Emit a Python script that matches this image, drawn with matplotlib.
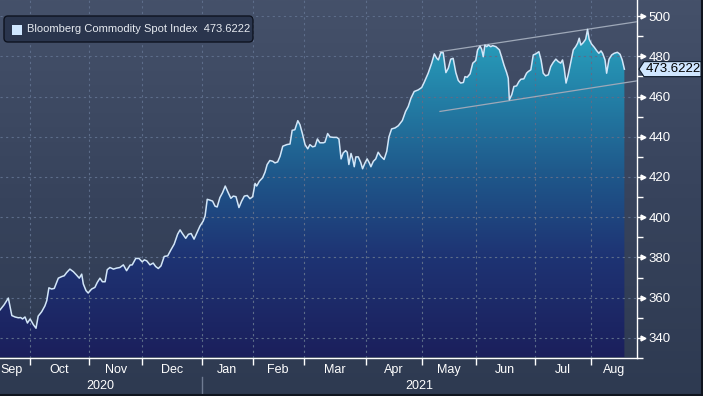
import numpy as np
import matplotlib
matplotlib.use('Agg')
import matplotlib.pyplot as plt
from matplotlib.colors import LinearSegmentedColormap
from matplotlib.patches import Polygon, FancyBboxPatch, Rectangle
from matplotlib.transforms import IdentityTransform, blended_transform_factory
from matplotlib.lines import Line2D

plt.rcParams['font.family'] = ['Liberation Sans', 'DejaVu Sans']

# ---------------- data ----------------
series_name = "Bloomberg Commodity Spot Index"
last_label = "473.6222"

# trading-day position (0 = mid-Sep 2020) and index level
t = [0.0, 1.5, 3.1, 4.4, 5.6, 6.8, 7.7, 8.4, 9.3, 10.2, 11.2, 12.4, 13.4, 14.2, 15.5,
     16.7, 17.4, 18.2, 19.2, 20.2, 21.7, 23.0, 23.9, 24.8, 26.0, 27.3, 28.5, 29.5, 30.4,
     31.0, 32.0, 32.8, 34.1, 35.3, 36.2, 37.2, 38.1, 39.1, 39.9, 40.9, 42.2, 43.4, 44.6,
     45.9, 47.1, 48.4, 49.2, 50.5, 51.7, 52.9, 53.7, 54.6, 55.8, 57.0, 57.9, 58.9, 59.9,
     61.1, 62.4, 63.6, 64.8, 66.1, 67.0, 67.8, 69.1, 70.1, 71.1, 72.2, 73.2, 74.4, 75.6,
     76.3, 77.1, 78.1, 79.1, 80.0, 80.8, 81.8, 82.8, 83.8, 84.9, 85.9, 86.8, 87.8, 88.9,
     89.9, 90.9, 92.0, 93.0, 94.0, 94.9, 95.5, 96.5, 97.7, 98.6, 99.4, 100.4, 101.5,
     102.3, 103.3, 104.2, 105.2, 106.7, 107.9, 108.7, 109.7, 110.8, 111.6, 112.5, 113.5,
     114.5, 115.3, 116.3, 117.2, 118.1, 119.0, 120.3, 120.9, 121.9, 122.8, 124.0, 125.3,
     126.1, 126.9, 127.7, 128.6, 129.2, 129.8, 130.6, 131.2, 131.8, 132.4, 133.3, 134.2,
     134.9, 135.8, 136.6, 137.4, 138.0, 138.9, 139.8, 140.7, 141.7, 142.9, 143.9, 144.7,
     145.7, 147.0, 148.2, 149.7, 150.9, 151.9, 152.9, 154.1, 155.6, 156.9, 157.9, 159.3,
     160.6, 161.6, 162.5, 163.1, 164.0, 164.9, 165.9, 166.8, 167.7, 168.6, 169.6, 170.5,
     171.4, 172.4, 173.0, 173.8, 174.9, 175.9, 177.0, 177.7, 178.6, 179.2, 179.8, 180.4,
     181.1, 181.7, 182.6, 183.3, 184.5, 185.8, 186.6, 187.5, 188.5, 189.1, 189.5, 190.4,
     191.2, 192.2, 193.1, 193.8, 194.9, 195.9, 196.5, 197.5, 198.4, 199.3, 200.5, 201.3,
     202.1, 203.0, 204.0, 204.9, 205.8, 206.8, 207.7, 208.6, 209.3, 209.9, 210.6, 211.4,
     212.4, 213.3, 214.2, 214.9, 215.5, 216.1, 217.0, 217.9, 218.6, 219.2, 220.1, 221.1,
     222.0, 222.8, 223.6, 224.2, 225.1, 225.7, 226.6, 227.6, 228.5, 229.7, 230.7, 231.5,
     232.3]
values = [353.9, 356.4, 359.8, 351.1, 350.4, 350.0, 350.1, 349.4, 350.4, 347.4, 349.4,
          346.6, 344.8, 350.8, 353.0, 355.9, 358.5, 364.9, 364.3, 364.6, 369.7, 370.5,
          370.9, 372.5, 374.2, 372.9, 371.2, 369.7, 371.7, 366.8, 363.5, 362.3, 364.3,
          365.1, 367.6, 369.7, 367.9, 367.9, 373.9, 375.0, 374.2, 374.7, 375.0, 376.3,
          373.4, 376.2, 376.3, 379.5, 379.5, 377.8, 378.8, 378.3, 376.3, 377.2, 375.5,
          374.5, 375.8, 380.5, 380.8, 383.8, 386.6, 391.6, 393.7, 392.0, 389.5, 391.5,
          391.9, 389.1, 392.0, 395.6, 398.1, 400.6, 408.9, 408.5, 408.0, 405.5, 405.1,
          409.7, 412.2, 415.5, 412.2, 409.4, 410.5, 410.2, 404.8, 408.0, 410.5, 410.8,
          409.2, 410.2, 416.8, 415.5, 417.9, 419.6, 422.4, 426.2, 428.2, 427.8, 427.0,
          427.5, 430.3, 435.3, 436.1, 436.4, 443.2, 443.5, 448.0, 446.0, 441.6, 436.1,
          434.0, 436.1, 435.0, 435.3, 438.9, 437.0, 437.0, 437.3, 441.6, 439.9, 439.7,
          439.7, 438.9, 429.0, 432.0, 433.1, 432.3, 426.2, 431.7, 429.0, 425.1, 430.0,
          430.0, 427.3, 424.1, 427.0, 429.0, 427.0, 425.1, 427.8, 429.0, 432.3, 430.3,
          428.7, 432.8, 439.9, 443.9, 444.4, 445.5, 448.1, 452.6, 455.1, 459.2, 462.5,
          463.3, 464.5, 467.3, 471.6, 476.6, 481.2, 479.0, 478.2, 481.8, 481.8, 471.9,
          474.1, 478.6, 479.0, 471.9, 468.0, 466.7, 467.0, 469.9, 469.6, 471.3, 476.6,
          477.9, 483.2, 485.1, 483.5, 479.8, 485.6, 484.8, 485.6, 484.8, 485.3, 484.8,
          483.2, 479.8, 475.7, 471.9, 469.1, 458.4, 460.9, 465.0, 465.3, 467.5, 468.6,
          468.8, 471.6, 472.4, 473.3, 480.7, 481.2, 482.3, 478.2, 471.6, 470.3, 470.8,
          474.9, 476.9, 478.6, 477.4, 476.6, 478.2, 474.1, 466.7, 470.8, 477.4, 483.2,
          484.8, 486.5, 489.0, 485.6, 486.8, 488.5, 493.4, 488.5, 486.1, 484.5, 482.8,
          481.5, 482.7, 481.5, 478.2, 471.6, 478.6, 480.7, 481.5, 482.0, 481.0, 478.2,
          473.6222]

# month boundaries in trading days (first = left edge, last = right edge of axis)
month_bounds = [0, 11, 33, 53, 75, 94, 113, 136, 157, 177, 199, 220, 237]
month_labels = ['Sep', 'Oct', 'Nov', 'Dec', 'Jan', 'Feb', 'Mar', 'Apr', 'May', 'Jun', 'Jul', 'Aug']
year_labels = ['2020', '2021']
year_bounds = [0, 75, 237]

# channel (trend) lines
trend_t = [163.7, 237.0]
upper_trend = [482.3, 497.2]
lower_trend = [452.6, 467.8]

y_major = list(range(340, 501, 20))
y_minor = list(range(330, 501, 10))
y_lim = (330.5, 508.0)

# ---------------- figure ----------------
W, H = 703, 396
fig = plt.figure(figsize=(W / 100, H / 100), dpi=100)

# background gradient
bg = fig.add_axes([0, 0, 1, 1], zorder=-10)
bg.axis('off')
bg_cmap = LinearSegmentedColormap.from_list('bg', ['#2e3a51', '#37435c', '#45516a'])
grad = np.linspace(0, 1, 256).reshape(-1, 1)
bg.imshow(grad, aspect='auto', cmap=bg_cmap, origin='lower', extent=[0, 1, 0, 1])
bg.set_xlim(0, 1); bg.set_ylim(0, 1)

ax = fig.add_axes([0, 38 / H, 637 / W, 358 / H])
ax.patch.set_alpha(0)
ax.set_xlim(month_bounds[0], month_bounds[-1])
ax.set_ylim(*y_lim)

# gradient area fill
fill_cmap = LinearSegmentedColormap.from_list(
    'fill', [(0.0, '#1b1f5c'), (0.3, '#1e3474'), (0.55, '#1f5a8c'), (0.8, '#2486ab'), (1.0, '#2aa8c2')])
poly = ax.fill_between(t, values, y_lim[0], facecolor='none', edgecolor='none')
im = ax.imshow(grad, aspect='auto', cmap=fill_cmap, origin='lower',
               extent=[month_bounds[0], month_bounds[-1], y_lim[0], 500], zorder=1)
im.set_clip_path(poly.get_paths()[0], transform=ax.transData)

# grid
for b in month_bounds[1:-1]:
    ax.axvline(b, color='#5d6d8a', lw=0.8, ls=(0, (2, 3)), zorder=2)
for yv in y_major:
    ax.axhline(yv, color='#5d6d8a', lw=0.8, ls=(0, (2, 3)), zorder=2)

# price line
ax.plot(t, values, color='#d2e6f8', lw=1.1, zorder=4, solid_joinstyle='round')

# channel lines
ax.plot(trend_t, upper_trend, color='#9ea8b8', lw=0.9, zorder=3)
ax.plot(trend_t, lower_trend, color='#9ea8b8', lw=0.9, zorder=3)

# spines
for s in ['top', 'left']:
    ax.spines[s].set_visible(False)
for s in ['right', 'bottom']:
    ax.spines[s].set_color('white')
    ax.spines[s].set_linewidth(1.0)

# x ticks (month boundaries), labels centred in months
ax.set_xticks(month_bounds[1:-1])
ax.set_xticklabels([])
ax.tick_params(axis='x', direction='out', length=5, width=1, color='white')
xlab_tr = blended_transform_factory(ax.transData, ax.transAxes)
for i, lab in enumerate(month_labels):
    if i == 0:
        ax.text(month_bounds[0] + 0.1, -12 / 358, lab, transform=xlab_tr, ha='left', va='center',
                color='white', fontsize=9)
    else:
        c = (month_bounds[i] + month_bounds[i + 1]) / 2
        ax.text(c, -12 / 358, lab, transform=xlab_tr, ha='center', va='center',
                color='white', fontsize=9)
for i, lab in enumerate(year_labels):
    c = (year_bounds[i] + year_bounds[i + 1]) / 2
    ax.text(c, -28 / 358, lab, transform=xlab_tr, ha='center', va='center',
            color='white', fontsize=9)

# y axis on right
ax.yaxis.tick_right()
ax.set_yticks(y_major)
ax.set_yticks(y_minor, minor=True)
ax.set_yticklabels([str(v) for v in y_major])
ax.tick_params(axis='y', which='major', direction='out', length=5, width=1, color='white',
               labelcolor='white', labelsize=9.5, pad=3.5)
ax.tick_params(axis='y', which='minor', direction='out', length=4, width=1, color='white')
ytr = blended_transform_factory(ax.transAxes, ax.transData)
ax.plot([1 + 6 / 637] * len(y_major), y_major, ls='none', marker='>', ms=3.5,
        color='white', transform=ytr, clip_on=False, zorder=5)

# year separator, frame
fig.canvas.draw()
sep_x = ax.transData.transform((year_bounds[1], 0))[0]
fig.add_artist(Line2D([sep_x, sep_x], [0, 19], color='#6f7b92', lw=1, transform=IdentityTransform()))
fig.add_artist(Line2D([W - 1.5, W - 1.5], [0, H], color='#10151f', lw=1.5, transform=IdentityTransform()))
fig.add_artist(Line2D([0, W], [0.8, 0.8], color='#10151f', lw=1.5, transform=IdentityTransform()))

# last value tag
x0, y0 = ax.transData.transform((month_bounds[-1], values[-1]))
tag = Polygon([(x0 + 2, y0), (x0 + 7, y0 + 7.5), (x0 + 64, y0 + 7.5), (x0 + 64, y0 - 7.5), (x0 + 7, y0 - 7.5)],
              closed=True, facecolor='#cfe6ff', edgecolor='#0d1a2a', lw=0.8, transform=IdentityTransform())
fig.add_artist(tag)
fig.text((x0 + 36) / W, y0 / H, last_label, ha='center', va='center', color='black', fontsize=9.5)

# legend box
leg = FancyBboxPatch((4, H - 42), 249, 26, boxstyle='round,pad=0,rounding_size=4',
                     facecolor='#2a354d', edgecolor='#0e1320', lw=1.0, transform=IdentityTransform())
fig.add_artist(leg)
fig.add_artist(Rectangle((12, H - 35), 10, 10, facecolor='#cfe6ff', edgecolor='none',
                         transform=IdentityTransform()))
fig.text(27 / W, (H - 29.5) / H, series_name + "  " + last_label, ha='left', va='center',
         color='#e6eaf0', fontsize=8)

fig.savefig('out.png', dpi=100)
